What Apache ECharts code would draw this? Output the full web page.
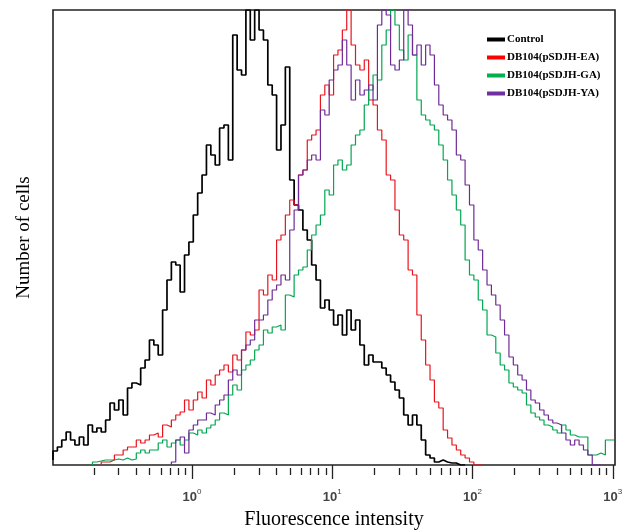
<!DOCTYPE html>
<html>
<head>
<meta charset="utf-8">
<script src="https://cdn.jsdelivr.net/npm/echarts@6.0.0/dist/echarts.min.js"></script>
<style>
  html, body { margin: 0; padding: 0; background: #fff; }
  #chart { width: 623px; height: 531px; }
</style>
</head>
<body>
<div id="chart"></div>
<script>
// --- DATA ---
// channels: 128 bins, 32 per decade, first edge at log10 = -0.99
const binStart = -0.99;
const binWidth = 1 / 32;
const majorTicks = [0, 1, 2, 3];
const minorMult = [2, 3, 4, 5, 6, 7, 8, 9];
const seriesNames = ['Control', 'DB104(pSDJH-EA)', 'DB104(pSDJH-GA)', 'DB104(pSDJH-YA)'];
const seriesColors = ['#000000', '#e8141c', '#00a650', '#6e2a96'];
const legendColors = ['#000000', '#ff0000', '#00b050', '#7030a0'];

const control = [
  5, 14, 18, 25, 33, 25, 20, 28, 20, 40, 33, 37, 33, 45, 62, 55,
  65, 50, 77, 82, 80, 97, 105, 125, 120, 110, 155, 185, 203, 200, 173, 210,
  223, 250, 272, 290, 320, 310, 300, 337, 340, 305, 430, 395, 390, 455, 425, 455,
  435, 425, 380, 370, 315, 340, 398, 285, 260, 255, 235, 225, 200, 185, 157, 165,
  155, 140, 150, 130, 155, 135, 145, 120, 100, 110, 103, 103, 97, 90, 83, 75,
  67, 50, 40, 50, 40, 25, 10, 7, 3, 5, 3, 2, 2, 0, 0, 0,
  0, 0, 0, 0, 0, 0, 0, 0, 0, 0, 0, 0, 0, 0, 0, 0,
  0, 0, 0, 0, 0, 0, 0, 0, 0, 0, 0, 0, 0, 0, 0, 0
];
const ea = [
  0, 0, 0, 0, 0, 0, 0, 0, 0, 0, 0, 0, 3, 3, 5, 10,
  10, 15, 18, 18, 25, 22, 25, 30, 32, 28, 40, 38, 45, 50, 53, 65,
  55, 65, 73, 67, 85, 80, 90, 95, 100, 93, 110, 105, 115, 133, 130, 135,
  175, 170, 190, 185, 225, 230, 250, 265, 260, 290, 295, 325, 330, 335, 370, 380,
  370, 410, 415, 435, 455, 420, 400, 395, 405, 365, 360, 335, 325, 290, 285, 255,
  230, 225, 195, 190, 150, 125, 100, 85, 63, 57, 35, 27, 20, 15, 10, 7,
  3, 0, 0, 0, 0, 0, 0, 0, 0, 0, 0, 0, 0, 0, 0, 0,
  0, 0, 0, 0, 0, 0, 0, 0, 0, 0, 0, 0, 0, 0, 0, 0
];
const ga = [
  0, 0, 0, 0, 0, 0, 0, 0, 0, 0, 3, 4, 5, 5, 5, 6,
  5, 7, 5, 6, 12, 15, 12, 15, 15, 22, 25, 18, 22, 25, 20, 25,
  32, 30, 35, 32, 37, 40, 45, 52, 50, 70, 80, 75, 95, 100, 105, 115,
  120, 135, 132, 138, 140, 135, 170, 168, 190, 195, 198, 215, 230, 240, 250, 275,
  270, 300, 305, 295, 300, 320, 330, 335, 360, 375, 390, 385, 420, 435, 455, 440,
  415, 405, 430, 410, 365, 350, 345, 340, 335, 320, 305, 285, 270, 255, 240, 205,
  190, 185, 165, 155, 130, 128, 112, 100, 95, 82, 78, 75, 72, 60, 52, 48,
  45, 40, 38, 35, 32, 40, 35, 30, 28, 28, 28, 10, 10, 12, 10, 25
];
const ya = [
  0, 0, 0, 0, 0, 0, 0, 0, 0, 0, 0, 0, 0, 0, 0, 0,
  0, 0, 0, 0, 0, 0, 0, 0, 0, 0, 0, 0, 3, 25, 28, 12,
  35, 40, 45, 45, 52, 50, 60, 65, 70, 85, 95, 90, 115, 120, 125, 145,
  145, 150, 165, 175, 180, 190, 185, 235, 255, 290, 295, 305, 310, 305, 355, 350,
  385, 395, 400, 425, 400, 365, 385, 370, 375, 380, 365, 440, 455, 450, 400, 395,
  405, 455, 440, 410, 420, 400, 420, 410, 380, 360, 350, 345, 335, 310, 305, 280,
  260, 225, 215, 195, 180, 170, 160, 145, 130, 108, 100, 90, 85, 75, 65, 62,
  55, 50, 45, 42, 40, 32, 25, 20, 25, 20, 15, 10, 0, 0, 0, 0
];
const allSeries = [control, ea, ga, ya];

// --- helpers ---
// histogram bins -> step line points (left edge of each channel)
const toSteps = (vals) => {
  let first = vals.findIndex(v => v > 0);
  let last = vals.length - 1;
  while (last > 0 && vals[last] === 0) last--;
  const from = Math.max(first - 1, 0);
  const to = Math.min(last + 1, vals.length - 1);
  const pts = [];
  for (let i = from; i <= to; i++) pts.push([binStart + i * binWidth, vals[i]]);
  pts.push([binStart + (to + 1) * binWidth, vals[to]]);
  return pts;
};

const minorTicks = [];
for (let n = -1; n <= 2; n++) {
  minorMult.forEach(k => minorTicks.push(n + Math.log10(k)));
}

const xMin = -0.99, xMax = 3.016;

const chart = echarts.init(document.getElementById('chart'));
chart.setOption({
  animation: false,
  backgroundColor: '#fff',
  grid: {
    left: 53, right: 8, top: 10, bottom: 66,
    outerBoundsMode: 'none', containLabel: false,
    show: true, borderColor: '#222', borderWidth: 1.6, backgroundColor: 'transparent'
  },
  legend: {
    orient: 'vertical',
    left: 487, top: 33, padding: 0,
    itemWidth: 18, itemHeight: 4, itemGap: 5,
    icon: 'rect',
    data: seriesNames.map((n, i) => ({ name: n, itemStyle: { color: legendColors[i] } })),
    textStyle: { fontFamily: 'Liberation Serif', fontWeight: 'bold', fontSize: 11, color: '#000', lineHeight: 13, padding: [0, 0, 0, -3] }
  },
  xAxis: [{
    type: 'value', min: xMin, max: xMax, position: 'bottom', offset: 3,
    axisLine: { show: false },
    splitLine: { show: false },
    axisTick: { show: true, customValues: majorTicks, length: 14, lineStyle: { color: '#222', width: 1.3 } },
    axisLabel: {
      customValues: majorTicks, margin: 20,
      formatter: v => '{a|10}{b|' + Math.round(v) + '}',
      rich: {
        a: { fontFamily: 'Liberation Sans', fontSize: 13, fontWeight: 'bold', color: '#444', verticalAlign: 'bottom', lineHeight: 16 },
        b: { fontFamily: 'Liberation Sans', fontSize: 8, color: '#444', verticalAlign: 'top', lineHeight: 16, padding: [0, 0, 8, 0] }
      }
    },
    name: 'Fluorescence intensity', nameLocation: 'middle', nameGap: 42,
    nameTextStyle: { fontFamily: 'Liberation Serif', fontSize: 20, color: '#000' }
  }, {
    type: 'value', min: xMin, max: xMax, position: 'bottom', offset: 3,
    axisLine: { show: false },
    splitLine: { show: false },
    axisTick: { show: true, customValues: minorTicks, length: 7, lineStyle: { color: '#222', width: 1.3 } },
    axisLabel: { show: false }
  }],
  yAxis: {
    type: 'value', min: 0, max: 455,
    axisLine: { show: false }, axisTick: { show: false }, axisLabel: { show: false },
    splitLine: { show: false },
    name: 'Number of cells', nameLocation: 'middle', nameGap: 19,
    nameTextStyle: { fontFamily: 'Liberation Serif', fontSize: 19, color: '#000' }
  },
  series: allSeries.map((vals, i) => ({
    name: seriesNames[i],
    type: 'line',
    step: 'start',
    xAxisIndex: 0,
    data: toSteps(vals),
    symbol: 'none',
    clip: true,
    color: legendColors[i],
    lineStyle: { color: seriesColors[i], width: i === 0 ? 1.7 : 1.2 }
  }))
});
</script>
</body>
</html>
